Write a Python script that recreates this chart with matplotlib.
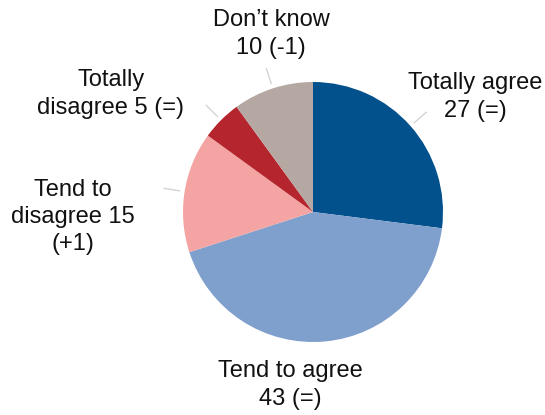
import numpy as np
import matplotlib.pyplot as plt

labels = ['Totally agree\n27 (=)', 'Tend to agree\n43 (=)', 'Tend to\ndisagree 15\n(+1)',
          'Totally\ndisagree 5 (=)', 'Don\u2019t know\n10 (-1)']
values = [27, 43, 15, 5, 10]
colors = ['#02508c', '#7f9fcd', '#f4a5a3', '#b4252d', '#b5a8a3']
# label centres in pixels (x, y from top)
label_pos = [(475, 97), (290, 385), (73, 217), (111, 94), (271, 34)]

plt.rcParams['font.family'] = ['Liberation Sans', 'DejaVu Sans']

W, H = 545, 415
cx, cy, r = 313, 212, 130
fig = plt.figure(figsize=(W / 100, H / 100), dpi=100)
ax = fig.add_axes([(cx - r) / W, (H - cy - r) / H, 2 * r / W, 2 * r / H])
wedges, _ = ax.pie(values, colors=colors, startangle=90, counterclock=False, radius=1)
ax.set_xlim(-1, 1)
ax.set_ylim(-1, 1)
ax.set_aspect('equal')
ax.axis('off')

# faint leader lines (radial, short)
for w in wedges:
    if w.theta2 - w.theta1 > 100:
        continue
    ang = np.deg2rad((w.theta1 + w.theta2) / 2)
    ax.plot([1.04 * np.cos(ang), 1.16 * np.cos(ang)], [1.04 * np.sin(ang), 1.16 * np.sin(ang)],
            color='#d4d4d4', lw=1, clip_on=False)

for lab, (px, py) in zip(labels, label_pos):
    ax.text((px - cx) / r, (cy - py) / r, lab, ha='center', va='center', fontsize=17,
            linespacing=1.3, color='#111111', clip_on=False)

fig.savefig('out.png', dpi=100)
